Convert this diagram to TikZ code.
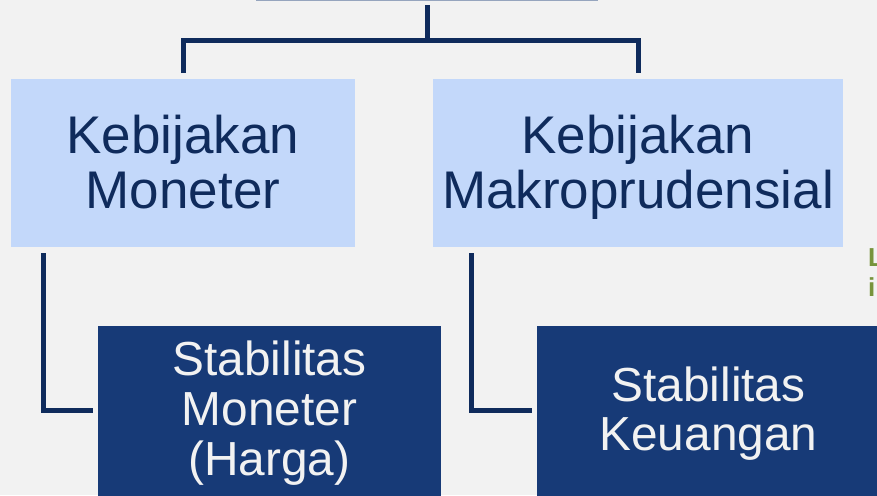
\documentclass[tikz,border=0pt]{standalone}
\usepackage{fontspec}
\setmainfont{Liberation Sans}
\usetikzlibrary{calc}
\definecolor{bgc}{HTML}{F2F2F2}
\definecolor{lightbox}{HTML}{C3D8FA}
\definecolor{darkbox}{HTML}{173A77}
\definecolor{navy}{HTML}{0F2B5C}
\definecolor{olive}{HTML}{77933C}
\tikzset{
  lightrect/.style={fill=lightbox, draw=none, inner sep=0pt, outer sep=0pt},
  darkrect/.style={fill=darkbox, draw=none, inner sep=0pt, outer sep=0pt},
  conn/.style={draw=navy, line width=5pt, line join=miter},
  ltext/.style={text=navy, anchor=base, inner sep=0pt, font=\fontsize{53}{56}\selectfont},
  dtext/.style={text=bgc, anchor=base, inner sep=0pt, font=\fontsize{47.8}{50}\selectfont},
  gtext/.style={text=olive, anchor=base west, inner sep=0pt, font=\bfseries\fontsize{26}{30}\selectfont},
}
\begin{document}
\begin{tikzpicture}[x=1pt, y=-1pt]
  \clip (0,0) rectangle (877,495);
  \fill[bgc] (0,0) rectangle (877,495);

  % parent box, only its lower edge lies in view
  \node[darkrect, fill=darkbox!42!bgc, minimum width=342pt, minimum height=61.5pt] (top) at (427,-29.25) {};

  % policy boxes
  \node[lightrect, minimum width=344pt, minimum height=168pt] (lk) at (183,163) {};
  \node[lightrect, minimum width=410pt, minimum height=168pt] (rk) at (638,163) {};

  % goal boxes
  \node[darkrect, minimum width=343pt, minimum height=234pt] (sm) at (269.5,443) {};
  \node[darkrect, minimum width=343pt, minimum height=234pt] (sk) at (708.5,443) {};

  % labels
  \node[ltext] (lk1) at (183,153) {Kebijakan};
  \node[ltext] (lk2) at (183,208) {Moneter};
  \node[ltext] (rk1) at (638,153) {Kebijakan};
  \node[ltext] (rk2) at (638,208) {Makroprudensial};

  \node[dtext] (sm1) at (269.5,375) {Stabilitas};
  \node[dtext] (sm2) at (269.5,425) {Moneter};
  \node[dtext] (sm3) at (269.5,475) {(Harga)};
  \node[dtext] (sk1) at (708.5,401) {Stabilitas};
  \node[dtext] (sk2) at (708.5,450) {Keuangan};

  % side note running past the right edge
  \node[gtext] (g1) at (868,266) {L};
  \node[gtext] (g2) at (868,296) {in};

  % tree connectors
  \draw[conn] ($(top.south)+(0.5,4)$) -- ++(0,35.5) coordinate (jn);
  \draw[conn] ($(lk.north)+(0,-6)$) |- (jn) -| ($(rk.north)+(0,-6)$);

  % elbow connectors down to the goal boxes
  \draw[conn] ($(lk.south west)+(32,6)$) |- ($(sm.north west)+(-5,84.5)$);
  \draw[conn] ($(rk.south west)+(38.5,6)$) |- ($(sk.north west)+(-5,84.5)$);
\end{tikzpicture}
\end{document}
